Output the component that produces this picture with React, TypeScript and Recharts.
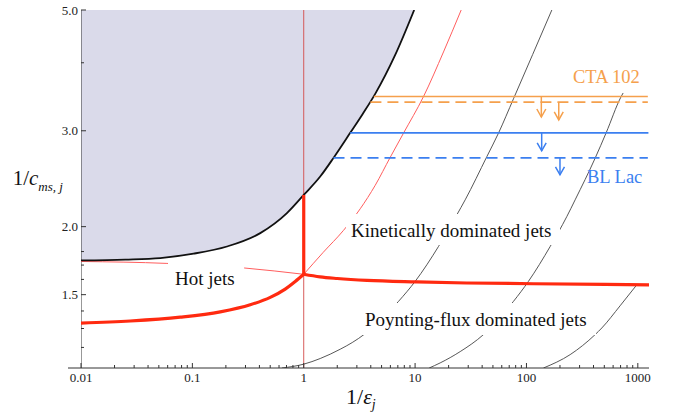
import React from "react";
import {
  ComposedChart, Area, Line, XAxis, YAxis, ReferenceLine,
} from "recharts";

// --- axis ticks ---
const X_MAJOR = [0.01, 0.1, 1, 10, 100, 1000];
const X_MINOR = [0.01, 0.1, 1, 10, 100].flatMap((d) =>
  [2, 3, 4, 5, 6, 7, 8, 9].map((m) => +(m * d).toPrecision(2))
);
const Y_MAJOR = [1.5, 2, 3, 5];
const Y_MINOR = [1.2, 1.3, 1.4, 1.6, 1.7, 1.8, 4];

// --- forbidden region boundary (black) ---
const BOUND_X = [0.01, 0.025, 0.0515, 0.1025, 0.2046, 0.407, 0.7066, 1, 1.406, 1.851, 2.615, 3.385, 4.384, 6.628, 9.815];
const BOUND_Y = [1.734, 1.74, 1.751, 1.784, 1.839, 1.946, 2.118, 2.287, 2.472, 2.675, 2.974, 3.222, 3.507, 4.134, 5.0];

// --- thin red divider left of 1/eps = 1 ---
const HOT_X = [0.01, 0.0591, 0.294, 1];
const HOT_Y = [1.726, 1.712, 1.679, 1.635];

// --- thick red boundaries ---
const LOW_X = [0.01, 0.0277, 0.0779, 0.178, 0.331, 0.5004, 0.682, 0.8389, 1];
const LOW_Y = [1.33, 1.342, 1.364, 1.395, 1.437, 1.483, 1.536, 1.586, 1.635];
const VERT_X = [1, 1];
const VERT_Y = [2.287, 1.635];
const RIGHT_X = [1, 1.4, 2, 3.7, 10.4, 29, 116, 1260];
const RIGHT_Y = [1.635, 1.617, 1.606, 1.593, 1.583, 1.576, 1.571, 1.564];

// --- thin red rising curve ---
const RISE_X = [1, 1.496, 2.277, 3.216, 4.384, 5.976, 7.869, 11.9, 17.99, 25.93];
const RISE_Y = [1.635, 1.794, 1.969, 2.157, 2.382, 2.681, 2.97, 3.467, 4.187, 5.0];

// --- black iso-curves ---
const ISO1_X = [0.637, 1.0, 1.406, 2.127, 2.725, 3.565, 4.861, 7.096, 10.02, 16.22, 23.72, 28.17, 44.11, 56.07, 76.43, 169];
const ISO1_Y = [1.1, 1.118, 1.145, 1.191, 1.225, 1.272, 1.344, 1.458, 1.587, 1.839, 2.103, 2.24, 2.69, 2.97, 3.434, 5.0];
const ISO2_X = [13.38, 16.8, 25.4, 41.12, 76.43, 104.2, 163.3, 230.6, 273.6, 413.8, 519.4, 703.9, 738];
const ISO2_Y = [1.1, 1.124, 1.179, 1.267, 1.458, 1.587, 1.839, 2.088, 2.24, 2.672, 2.974, 3.458, 3.52];
const ISO3_X = [142.1, 246.8, 413.8, 475.2, 693, 979.5];
const ISO3_Y = [1.1, 1.164, 1.267, 1.303, 1.431, 1.564];

// --- source limits ---
const CTA_SOLID_X = [4.26, 1230];
const CTA_SOLID_Y = [3.467, 3.467];
const CTA_DASH_X = [3.97, 1230];
const CTA_DASH_Y = [3.386, 3.386];
const BL_SOLID_X = [2.615, 1245];
const BL_SOLID_Y = [2.974, 2.974];
const BL_DASH_X = [1.851, 1230];
const BL_DASH_Y = [2.675, 2.675];

const CTA_ARROW_X = [136, 195];
const CTA_ARROW_TOP = [3.467, 3.386];
const CTA_ARROW_TIP = [3.18, 3.141];
const BL_ARROW_X = [137, 200];
const BL_ARROW_TOP = [2.974, 2.675];
const BL_ARROW_TIP = [2.756, 2.49];

const AXIS_X = [0.01, 0.01];
const AXIS_Y = [1.1, 5];
const ONE_X = [1, 1];
const ONE_Y = [1.1, 5];

const pts = (xs: number[], ys: number[]) => xs.map((x, i) => ({ x, y: ys[i] }));

const SERIF = "'Liberation Serif', 'Times New Roman', serif";
const PAD_LEFT = 13;
const ORANGE = "#f5a04c";
const BLUE = "#3b7ff0";
const RED = "#ff2a10";
const THIN_RED = "#ff5e5e";
const AXIS = "#333";

const XTick = (props: any) => {
  const { x, y, payload } = props;
  const major = X_MAJOR.includes(payload.value);
  return (
    <g>
      <line x1={x} x2={x} y1={y} y2={y - (major ? 5 : 3)} stroke={AXIS} />
      {major && (
        <text x={x} y={y + 13.5} textAnchor="middle" fontSize={13} fontFamily={SERIF} fill="#222">
          {String(payload.value)}
        </text>
      )}
    </g>
  );
};

const YTick = (props: any) => {
  const { x, y, payload } = props;
  const major = Y_MAJOR.includes(payload.value);
  const ax = x + PAD_LEFT;
  return (
    <g>
      <line x1={ax} x2={ax + (major ? 5 : 3)} y1={y} y2={y} stroke={AXIS} />
      {major && (
        <text x={ax - 3} y={y} dy="0.35em" textAnchor="end" fontSize={13} fontFamily={SERIF} fill="#222">
          {payload.value.toFixed(1)}
        </text>
      )}
    </g>
  );
};

const arrowShape = (color: string) => (p: any) => {
  const { x1, y1, x2, y2 } = p;
  return (
    <g>
      <line x1={x1} y1={y1} x2={x2} y2={y2} stroke={color} strokeWidth={1.5} />
      <path d={`M${x2 - 4.5},${y2 - 8} L${x2},${y2} L${x2 + 4.5},${y2 - 8}`} fill="none" stroke={color} strokeWidth={1.5} />
    </g>
  );
};

export default function App() {
  const shade = BOUND_X.map((x, i) => ({ x, band: [BOUND_Y[i], 5] }));
  const lineProps = { dataKey: "y", dot: false, activeDot: false, isAnimationActive: false } as const;

  return (
    <div style={{ position: "absolute", left: 0, top: 0, width: 678, height: 418, background: "#fff" }}>
      <ComposedChart width={678} height={418} margin={{ top: 10, right: 29, left: 8, bottom: 0 }}>
        <XAxis
          dataKey="x"
          type="number"
          scale="log"
          domain={[0.01, 1260]}
          allowDataOverflow
          ticks={[...X_MAJOR, ...X_MINOR]}
          interval={0}
          tick={<XTick />}
          tickLine={false}
          tickSize={0}
          tickMargin={0}
          height={50}
          padding={{ left: PAD_LEFT, right: 0 }}
          axisLine={{ stroke: AXIS }}
        />
        <YAxis
          type="number"
          scale="log"
          domain={[1.1, 5]}
          allowDataOverflow
          ticks={[...Y_MAJOR, ...Y_MINOR]}
          interval={0}
          tick={<YTick />}
          tickLine={false}
          tickSize={0}
          tickMargin={0}
          width={60}
          axisLine={false}
        />
        <Area data={shade} dataKey="band" type="monotone" stroke="none" fill="#dadaea" fillOpacity={1} isAnimationActive={false} activeDot={false} />

        <Line {...lineProps} data={pts(ONE_X, ONE_Y)} type="linear" stroke="#d24a48" strokeWidth={0.9} />
        <Line {...lineProps} data={pts(AXIS_X, AXIS_Y)} type="linear" stroke={AXIS} strokeWidth={1} />

        <Line {...lineProps} data={pts(ISO1_X, ISO1_Y)} type="monotone" stroke="#444" strokeWidth={0.9} />
        <Line {...lineProps} data={pts(ISO2_X, ISO2_Y)} type="monotone" stroke="#444" strokeWidth={0.9} />
        <Line {...lineProps} data={pts(ISO3_X, ISO3_Y)} type="monotone" stroke="#444" strokeWidth={0.9} />

        <Line {...lineProps} data={pts(HOT_X, HOT_Y)} type="monotone" stroke={THIN_RED} strokeWidth={1} />
        <Line {...lineProps} data={pts(RISE_X, RISE_Y)} type="monotone" stroke={THIN_RED} strokeWidth={1} />

        <Line {...lineProps} data={pts(BOUND_X, BOUND_Y)} type="monotone" stroke="#111" strokeWidth={1.8} />

        <Line {...lineProps} data={pts(LOW_X, LOW_Y)} type="monotone" stroke={RED} strokeWidth={3.2} />
        <Line {...lineProps} data={pts(VERT_X, VERT_Y)} type="linear" stroke={RED} strokeWidth={3.2} />
        <Line {...lineProps} data={pts(RIGHT_X, RIGHT_Y)} type="monotone" stroke={RED} strokeWidth={3.2} />

        <Line {...lineProps} data={pts(CTA_SOLID_X, CTA_SOLID_Y)} type="linear" stroke={ORANGE} strokeWidth={1.6} />
        <Line {...lineProps} data={pts(CTA_DASH_X, CTA_DASH_Y)} type="linear" stroke={ORANGE} strokeWidth={1.6} strokeDasharray="11 6" />
        <Line {...lineProps} data={pts(BL_SOLID_X, BL_SOLID_Y)} type="linear" stroke={BLUE} strokeWidth={1.6} />
        <Line {...lineProps} data={pts(BL_DASH_X, BL_DASH_Y)} type="linear" stroke={BLUE} strokeWidth={1.6} strokeDasharray="11 6" />

        {CTA_ARROW_X.map((x, i) => (
          <ReferenceLine
            key={`cta${i}`}
            segment={[{ x, y: CTA_ARROW_TOP[i] }, { x, y: CTA_ARROW_TIP[i] }]}
            shape={arrowShape(ORANGE)}
          />
        ))}
        {BL_ARROW_X.map((x, i) => (
          <ReferenceLine
            key={`bl${i}`}
            segment={[{ x, y: BL_ARROW_TOP[i] }, { x, y: BL_ARROW_TIP[i] }]}
            shape={arrowShape(BLUE)}
          />
        ))}
      </ComposedChart>

      <svg
        width={678}
        height={418}
        style={{ position: "absolute", left: 0, top: 0, pointerEvents: "none" }}
        fontFamily={SERIF}
      >
        <rect x={168} y={262} width={76} height={29} fill="#fff" />
        <text x={175} y={285} fontSize={19} fill="#111">Hot jets</text>
        <rect x={346} y={214} width={214} height={31} fill="#fff" />
        <text x={351} y={237} fontSize={19} fill="#111">Kinetically dominated jets</text>
        <rect x={360} y={303} width={236} height={32} fill="#fff" />
        <text x={365} y={326} fontSize={19} fill="#111">Poynting-flux dominated jets</text>

        <text x={573} y={83} fontSize={18.5} fill={ORANGE}>CTA 102</text>
        <text x={587} y={183} fontSize={18.5} fill={BLUE}>BL Lac</text>

        <text x={12.7} y={185} fontSize={21} fill="#111">
          1/<tspan fontStyle="italic">c</tspan>
          <tspan fontStyle="italic" fontSize={13} dy={6}>ms, j</tspan>
        </text>
        <text x={346} y={404} fontSize={22} fill="#111">
          1/<tspan fontStyle="italic">ε</tspan>
          <tspan fontStyle="italic" fontSize={14} dy={5}>j</tspan>
        </text>
      </svg>
    </div>
  );
}
